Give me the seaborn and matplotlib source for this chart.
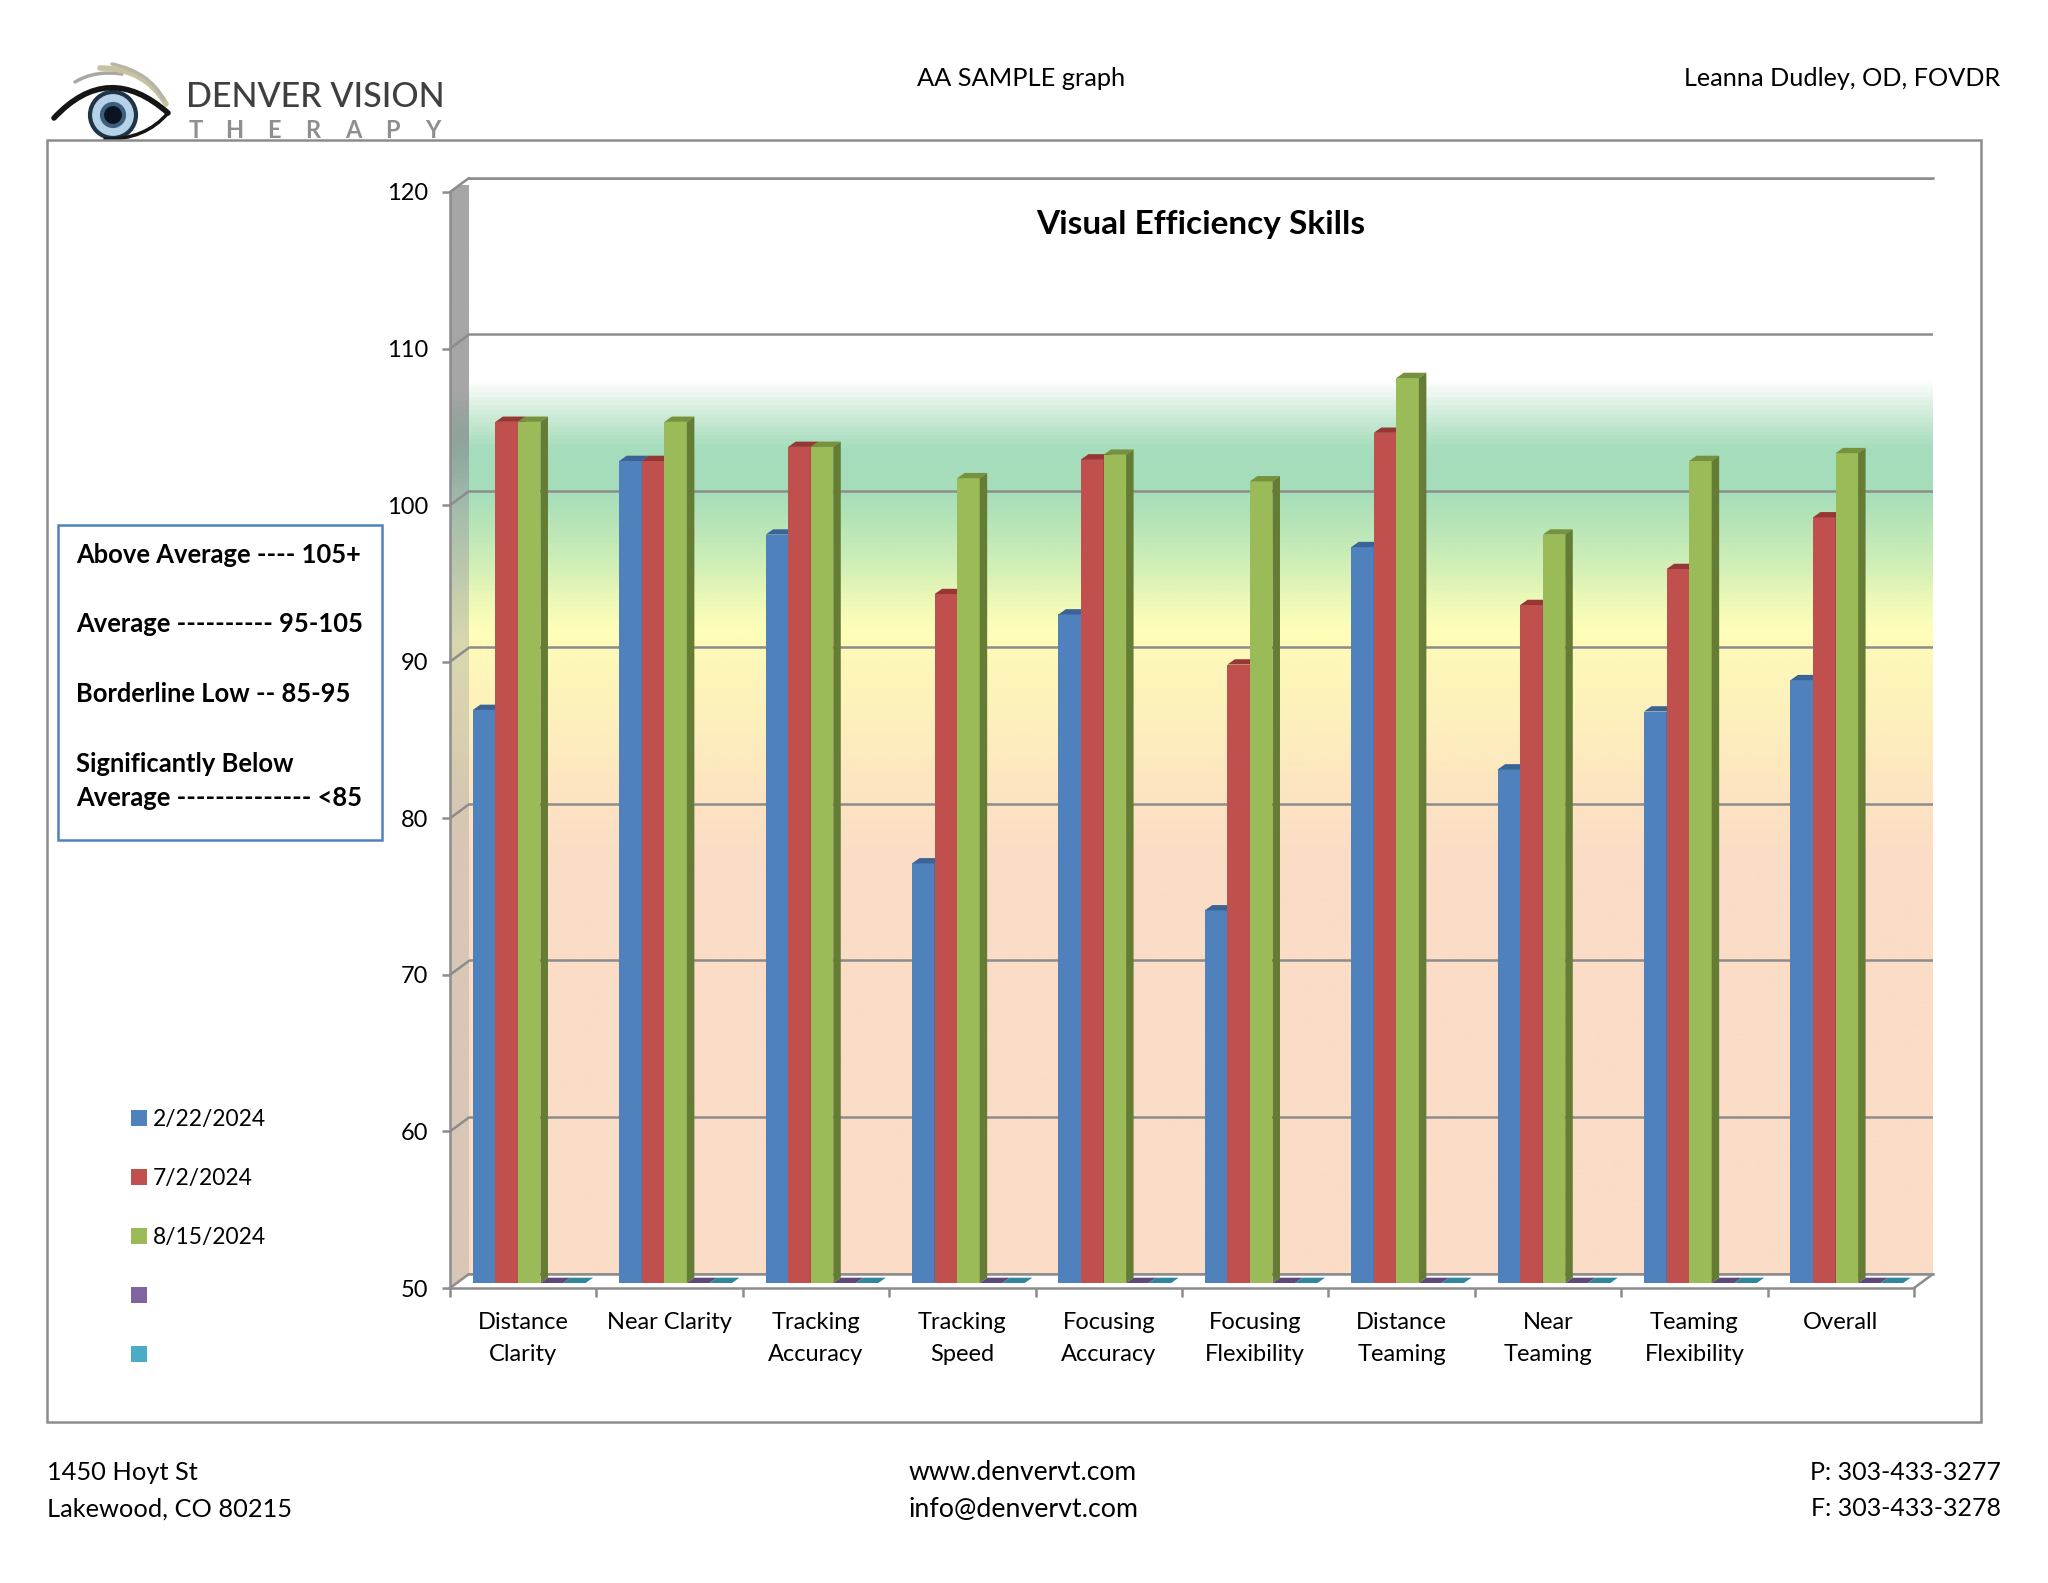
import numpy as np
import pandas as pd
import matplotlib
matplotlib.use("Agg")
import matplotlib.pyplot as plt
import seaborn as sns
from matplotlib.colors import LinearSegmentedColormap
from matplotlib.patches import Polygon, Rectangle, Circle, PathPatch, Patch
from matplotlib.path import Path

W, H = 2048, 1583

skills = ["Distance\nClarity", "Near Clarity", "Tracking\nAccuracy", "Tracking\nSpeed", "Focusing\nAccuracy",
          "Focusing\nFlexibility", "Distance\nTeaming", "Near\nTeaming", "Teaming\nFlexibility", "Overall"]
visit_1 = [86.6, 102.5, 97.8, 76.8, 92.7, 73.8, 97.0, 82.8, 86.5, 88.5]
visit_2 = [105.0, 102.5, 103.4, 94.0, 102.6, 89.5, 104.3, 93.3, 95.6, 98.9]
visit_3 = [105.0, 105.0, 103.4, 101.4, 102.9, 101.2, 107.8, 97.8, 102.5, 103.0]
blank_1 = [50] * 10
blank_2 = [50] * 10
series_names = ["2/22/2024", "7/2/2024", "8/15/2024", "blank 1", "blank 2"]
legend_labels = ["2/22/2024", "7/2/2024", "8/15/2024", "", ""]
front_colors = ["#4F81BD", "#C0504D", "#9BBB59", "#8064A2", "#4BACC6"]
top_colors = ["#3A6496", "#953735", "#76923C", "#5F497A", "#31859C"]
side_colors = ["#385D8A", "#8C3836", "#647C33", "#5F497A", "#31859C"]
y_ticks = [50, 60, 70, 80, 90, 100, 110, 120]

# wall colours by score value
band_values = [50, 76.4, 81.5, 85.4, 89.2, 91.1, 93.0, 95.6, 98.8, 100.1, 102.9, 104.2, 105.8, 107.2, 120]
band_colors = ["#FBDCC6", "#FBDCC6", "#FDE6C0", "#FDF0BC", "#FEF7B9", "#FFFFB9", "#EEF9B7", "#CEEEB7",
               "#B0E2B8", "#A5DDBB", "#A6DEBD", "#BFE6CE", "#E0F2E6", "#FFFFFF", "#FFFFFF"]
side_wall_colors = ["#D8C6B6", "#D8C6B6", "#D6C8B2", "#D8D0B0", "#D9D6AE", "#D8D7AE", "#CDD2AC", "#BCC8AC",
                    "#A8BFAC", "#9FB9AA", "#8FAA9E", "#8FA39A", "#9CA4A0", "#A6A6A6", "#A6A6A6"]
legend_box = ["Above Average ---- 105+", "Average ---------- 95-105", "Borderline Low -- 85-95",
              "Significantly Below", "Average -------------- <85"]
box_rows = [555, 624, 694, 764, 798]

GRID = "#8C8C8C"
px = 2.5 * 72 / 100


def rect_px(x0, y0, x1, y1):
    return [x0 / W, 1 - y1 / H, (x1 - x0) / W, (y1 - y0) / H]


df = pd.DataFrame({"skill": skills, series_names[0]: visit_1, series_names[1]: visit_2,
                   series_names[2]: visit_3, series_names[3]: blank_1, series_names[4]: blank_2})
df = df.melt(id_vars="skill", var_name="date", value_name="score")

sns.set_theme(style="white")
plt.rcParams["font.family"] = ["Lato", "DejaVu Sans"]

fig = plt.figure(figsize=(W / 100, H / 100), dpi=100, facecolor="white")

# page furniture in pixel coordinates
page = fig.add_axes([0, 0, 1, 1], zorder=0)
page.set_xlim(0, W)
page.set_ylim(H, 0)
page.axis("off")


def curve(points, color, lw, z=2):
    codes = [Path.MOVETO] + [Path.CURVE3] * (len(points) - 1)
    page.add_patch(PathPatch(Path(points, codes), fc="none", ec=color, lw=lw, capstyle="round", zorder=z))


# logo
curve([(75, 82), (95, 70), (122, 74)], "#A8A8A0", 2.5)
curve([(100, 68), (145, 68), (166, 104)], "#C9C2A0", 4)
curve([(112, 64), (150, 72), (164, 100)], "#B8B5A8", 2.5)
page.add_patch(Circle((113, 115), 23, fc="#B5D2E6", ec="#1F3447", lw=3, zorder=2))
page.add_patch(Circle((113, 115), 11, fc="#0B1420", ec="#3B5F80", lw=3, zorder=2))
curve([(54, 118), (108, 60), (168, 113)], "#151515", 4, 3)
curve([(168, 113), (145, 140), (105, 139)], "#151515", 2.5, 3)
page.text(186, 97, "DENVER VISION", fontsize=24.5, color="#3F3F3F", weight="medium", va="center", ha="left")
for lx, letter in zip([196, 234, 274, 313, 353, 392, 433], "THERAPY"):
    page.text(lx, 130, letter, fontsize=17, color="#8F8F8F", weight="bold", ha="center", va="center")

# header and footer
page.text(1021, 78, "AA SAMPLE graph", fontsize=18.3, ha="center", va="center", color="black")
page.text(2000, 78, "Leanna Dudley, OD, FOVDR", fontsize=18.2, ha="right", va="center", color="black")
page.text(47, 1472, "1450 Hoyt St", fontsize=18.3, ha="left", va="center", color="black")
page.text(47, 1509, "Lakewood, CO 80215", fontsize=18.3, ha="left", va="center", color="black")
page.text(1023, 1472, "www.denvervt.com", fontsize=19, ha="center", va="center", color="black")
page.text(1023, 1509, "info@denvervt.com", fontsize=19.3, ha="center", va="center", color="black")
page.text(2001, 1472, "P: 303-433-3277", fontsize=18, ha="right", va="center", color="black")
page.text(2001, 1509, "F: 303-433-3278", fontsize=18, ha="right", va="center", color="black")

page.add_patch(Rectangle((47, 140), 1934, 1282, fc="none", ec=GRID, lw=px, zorder=4))

# score key box
page.add_patch(Rectangle((58, 525), 324, 315, fc="white", ec="#4F81BD", lw=px, zorder=4))
for row, line in zip(box_rows, legend_box):
    page.text(76, row, line, fontsize=18.4, weight="bold", ha="left", va="center", color="black", zorder=5)

# left wall, white floor
wall_cmap = LinearSegmentedColormap.from_list("wall", list(zip(
    [(v - 50) / 70 for v in band_values], band_colors)))
side_cmap = LinearSegmentedColormap.from_list("side", list(zip(
    [(v - 50) / 70 for v in band_values], side_wall_colors)))
ramp = np.linspace(1, 0, 700).reshape(-1, 1)
side_img = page.imshow(ramp, cmap=side_cmap, vmin=0, vmax=1, extent=(450, 469, 1288, 185), aspect="auto", zorder=1)
side_img.set_clip_path(Polygon([(450, 192), (469, 178), (469, 1274), (450, 1288)], transform=page.transData))
page.set_xlim(0, W)
page.set_ylim(H, 0)

# back wall
wall = fig.add_axes(rect_px(469, 177.5, 1933, 1273.5), zorder=1)
wall.imshow(ramp, cmap=wall_cmap, vmin=0, vmax=1, extent=(0, 1, 50, 120), aspect="auto", zorder=0)
wall.set_xlim(0, 1)
wall.set_ylim(50, 120)
wall.set_xticks([])
wall.set_yticks(y_ticks)
wall.tick_params(left=False, labelleft=False)
wall.grid(axis="y", color=GRID, lw=px)
wall.set_axisbelow(False)
for name, spine in wall.spines.items():
    spine.set_visible(name in ("top", "bottom"))
    spine.set_color(GRID)
    spine.set_linewidth(px)

# front axis with the ticks and labels
front = fig.add_axes(rect_px(450, 192, 1914, 1288), zorder=2)
front.patch.set_visible(False)
front.set_xlim(0, 10)
front.set_ylim(50, 120)
front.set_yticks(y_ticks)
front.set_xticks(range(11))
front.set_xticklabels([])
front.set_xticks(np.arange(10) + 0.5, labels=skills, minor=True)
front.tick_params(axis="x", which="major", bottom=True, length=9 * 0.72, width=px, color=GRID)
front.tick_params(axis="x", which="minor", bottom=False, length=0, pad=17.5, labelsize=17, labelcolor="black")
front.tick_params(axis="y", left=True, length=8 * 0.72, width=px, color=GRID, pad=10, labelsize=17, labelcolor="black")
for label in front.get_xticklabels(minor=True):
    label.set_linespacing(1.63)
for name, spine in front.spines.items():
    spine.set_visible(name in ("left", "bottom"))
    spine.set_color(GRID)
    spine.set_linewidth(px)

# slanted links between the front axis and the back wall
for v in y_ticks:
    y = 1288 - (v - 50) * (1288 - 192) / 70
    page.plot([450, 469], [y, y - 14], color=GRID, lw=px, zorder=3, solid_capstyle="round")
page.plot([1914, 1933], [1288, 1274], color=GRID, lw=px, zorder=3)

# bars sit slightly inside the floor
ax = fig.add_axes(rect_px(456, 187, 1920, 1283), zorder=3)
sns.barplot(data=df, x="skill", y="score", hue="date", hue_order=series_names, order=skills,
            palette=front_colors, saturation=1, width=0.77, gap=0, errorbar=None, legend=False,
            linewidth=0, ax=ax)
ax.set_xlim(-0.5, 9.5)
ax.set_ylim(50, 120)
ax.axis("off")

depth_x = 7.5 / 146.4
depth_y = 5.3 / 15.66
for s, bars in enumerate(ax.containers):
    for bar in bars:
        x0, x1 = bar.get_x(), bar.get_x() + bar.get_width()
        top = bar.get_height()
        bar.set_zorder(2 + 2 * s)
        ax.add_patch(Polygon([(x0, top), (x1, top), (x1 + depth_x, top + depth_y), (x0 + depth_x, top + depth_y)],
                             fc=top_colors[s], ec="none", zorder=3 + 2 * s))
        if top > 50:
            ax.add_patch(Polygon([(x1, 50), (x1, top), (x1 + depth_x, top + depth_y), (x1 + depth_x, 50 + depth_y)],
                                 fc=side_colors[s], ec="none", zorder=3 + 2 * s))

ax.set_title("Visual Efficiency Skills", fontsize=24, weight="bold", color="black", x=0.509, y=0.9585, va="center")

handles = [Patch(fc=c, ec="none") for c in front_colors]
ax.legend(handles, legend_labels, loc="upper left", bbox_to_anchor=(131 / W, 1 - 1109 / H),
          bbox_transform=fig.transFigure, frameon=False, fontsize=16.4, labelcolor="black",
          handlelength=0.7, handleheight=0.7, handletextpad=0.25, labelspacing=1.67,
          borderpad=0, borderaxespad=0)

fig.savefig("out.png", dpi=100)
